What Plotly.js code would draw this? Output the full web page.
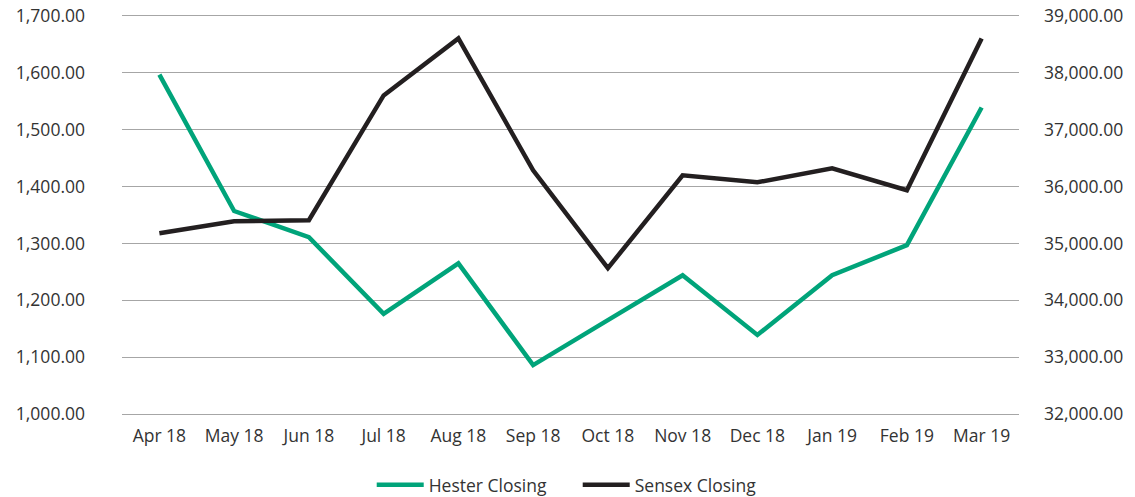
<!DOCTYPE html>
<html><head><meta charset="utf-8">
<script src="https://cdn.plot.ly/plotly-3.0.1.min.js"></script>
<style>body{margin:0;background:#fff}#c{width:1135px;height:497px}</style>
</head><body><div id="c"></div>
<script>
const months = ["Apr 18","May 18","Jun 18","Jul 18","Aug 18","Sep 18","Oct 18","Nov 18","Dec 18","Jan 19","Feb 19","Mar 19"];
const hesterClosing = [1597,1357,1311,1176,1265,1086,1165,1244,1139,1244,1297,1539];
const sensexClosing = [35179,35390,35408,37603,38605,36286,34565,36198,36075,36321,35935,38605];
const leftTicks = [1000,1100,1200,1300,1400,1500,1600,1700];
const rightTicks = [32000,33000,34000,35000,36000,37000,38000,39000];

const font = {family:"'Open Sans', sans-serif", size:17.5, color:"#333"};
const traces = [
  {x:months, y:hesterClosing, name:"Hester Closing", type:"scatter", mode:"lines",
   line:{color:"#00a47a", width:4.5}, yaxis:"y"},
  {x:months, y:sensexClosing, name:"Sensex Closing", type:"scatter", mode:"lines",
   line:{color:"#231f20", width:4.5}, yaxis:"y2"}
];
const layout = {
  width:1135, height:497,
  margin:{l:122, r:116, t:16, b:83, autoexpand:false},
  paper_bgcolor:"#fff", plot_bgcolor:"#fff",
  font:font,
  showlegend:true,
  legend:{orientation:"h", x:0.509, xanchor:"center", xref:"container", y:-0.178, yanchor:"middle",
          font:font, traceorder:"normal", itemwidth:47, entrywidth:144, entrywidthmode:"pixels"},
  xaxis:{type:"category", range:[-0.5,11.5], showgrid:false, zeroline:false,
         showline:true, mirror:true, linecolor:"#a6a6a6", linewidth:1.2, ticks:"",
         tickfont:font, ticklabelstandoff:6, tickangle:0, automargin:false},
  yaxis:{range:[1000,1700], tickvals:leftTicks, tickformat:",.2f", showgrid:true,
         gridcolor:"#a6a6a6", gridwidth:1.2, zeroline:false, showline:false, ticks:"",
         tickfont:font, ticklabelstandoff:36, automargin:false},
  yaxis2:{range:[32000,39000], tickvals:rightTicks, tickformat:",.2f", overlaying:"y", side:"right",
          showgrid:false, zeroline:false, showline:false, ticks:"", tickfont:font,
          ticklabelstandoff:24, automargin:false}
};
Plotly.newPlot("c", traces, layout, {displayModeBar:false, staticPlot:true});
</script></body></html>
